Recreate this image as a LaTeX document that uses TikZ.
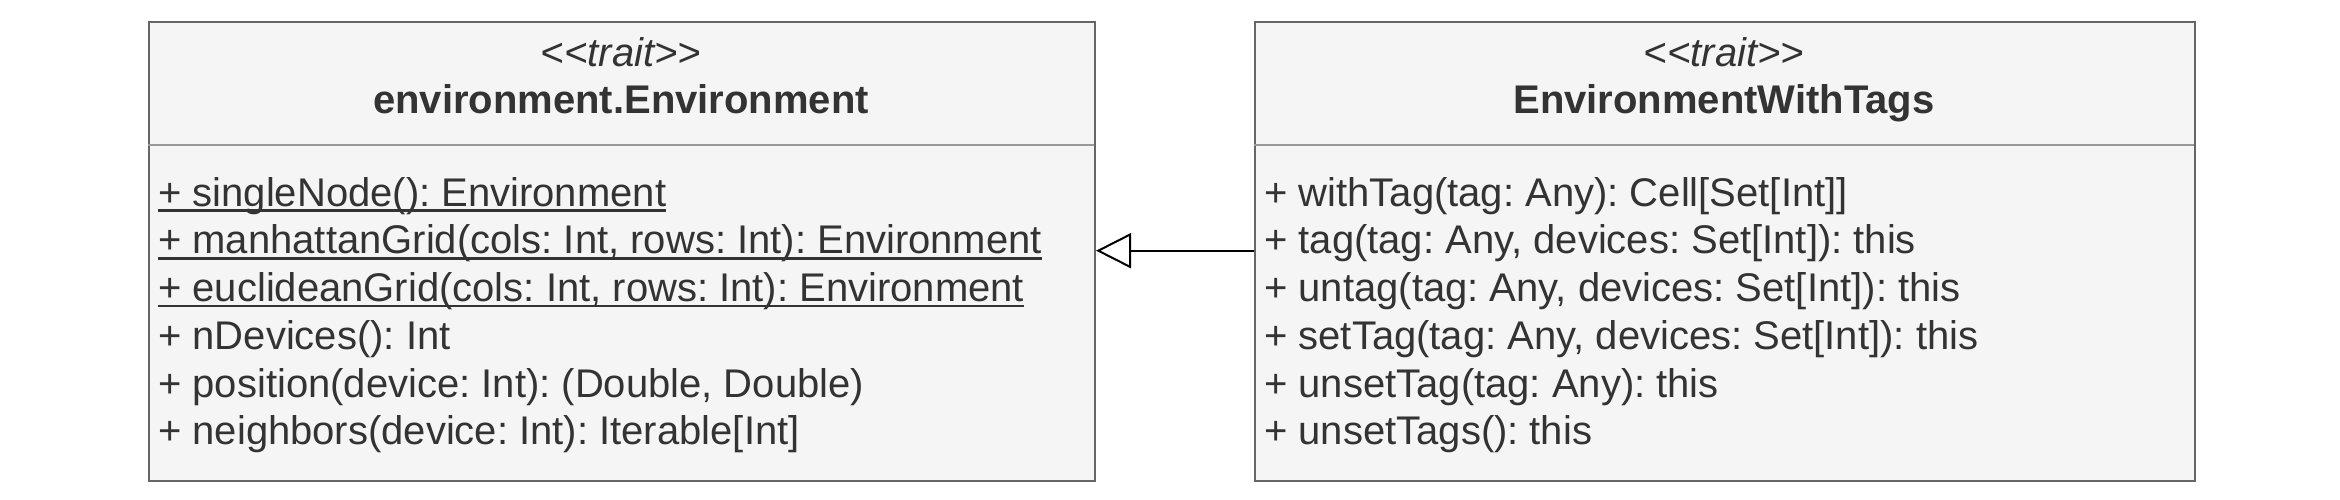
\documentclass[tikz,border=0pt]{standalone}
\usepackage{fontspec}
\setmainfont{Liberation Sans}
\usetikzlibrary{arrows.meta}
\definecolor{boxfill}{HTML}{F5F5F5}
\definecolor{boxline}{HTML}{666666}
\definecolor{divline}{HTML}{999999}
\definecolor{txt}{HTML}{333333}
\frenchspacing
\begin{document}
\begin{tikzpicture}[x=1pt,y=-1pt,
  classbox/.style={draw=boxline,fill=boxfill,line width=2pt,inner sep=0pt,anchor=north west},
  divider/.style={draw=divline,line width=2pt},
  member/.style={anchor=base west,inner sep=0pt,text=txt,font=\fontsize{40}{48}\selectfont\frenchspacing},
  stereo/.style={anchor=base,inner sep=0pt,text=txt,font=\fontsize{40}{48}\selectfont\itshape},
  cname/.style={anchor=base,inner sep=0pt,text=txt,font=\fontsize{40}{48}\selectfont\bfseries},
  uline/.style={draw=txt,line width=2.5pt},
  inherit/.style={draw=black,line width=2pt,-{Triangle[open,fill=white,length=35pt,width=35pt]}}
]
\useasboundingbox (0,0) rectangle (2340,500);
% boxes
\node[classbox,minimum width=946pt,minimum height=459pt] (env) at (148,21) {};
\node[classbox,minimum width=940pt,minimum height=459pt] (tag) at (1254,21) {};
\coordinate (envdivL) at (148,145);
\coordinate (envdivR) at (1094,145);
\coordinate (tagdivL) at (1254,145);
\coordinate (tagdivR) at (2194,145);
\draw[divider] (envdivL) -- (envdivR);
\draw[divider] (tagdivL) -- (tagdivR);
% headers
\node[stereo] (envS) at (621,67) {<\kern0pt<trait>\kern0pt>};
\node[cname] (envN) at (621,114) {environment.Environment};
\node[stereo] (tagS) at (1724,67) {<\kern0pt<trait>\kern0pt>};
\node[cname] (tagN) at (1724,114) {EnvironmentWithTags};
% left members
\node[member] (e1) at (158,206) {+ singleNode(): Environment};
\node[member] (e2) at (158,253.75) {+ manhattanGrid(cols: Int, rows: Int): Environment};
\node[member] (e3) at (158,301.5) {+ euclideanGrid(cols: Int, rows: Int): Environment};
\node[member] (e4) at (158,349.25) {+ nDevices(): Int};
\node[member] (e5) at (158,397) {+ position(device: Int): (Double, Double)};
\node[member] (e6) at (158,444.75) {+ neighbors(device: Int): Iterable[Int]};
\foreach \n in {e1,e2,e3}
  \draw[uline] ([yshift=-4.5pt]\n.base west) -- ([yshift=-4.5pt]\n.base east);
% right members
\node[member] (t1) at (1264,206) {+ withTag(tag: Any): Cell[Set[Int]]};
\node[member] (t2) at (1264,253.75) {+ tag(tag: Any, devices: Set[Int]): this};
\node[member] (t3) at (1264,301.5) {+ untag(tag: Any, devices: Set[Int]): this};
\node[member] (t4) at (1264,349.25) {+ setTag(tag: Any, devices: Set[Int]): this};
\node[member] (t5) at (1264,397) {+ unsetTag(tag: Any): this};
\node[member] (t6) at (1264,444.75) {+ unsetTags(): this};
% inheritance
\coordinate (arrY) at (0,250.7);
\draw[inherit] (tag.west |- arrY) -- (env.east |- arrY);
\end{tikzpicture}
\end{document}
